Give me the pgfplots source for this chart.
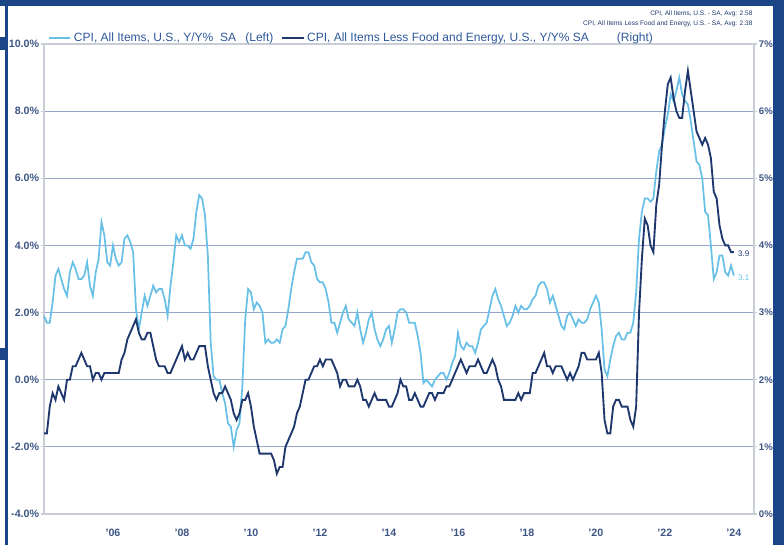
\documentclass[border=0pt]{standalone}
\usepackage{fontspec}
\setmainfont{Liberation Sans}
\usepackage{pgfplots}
\usepackage{pgfplotstable}
\pgfplotsset{compat=1.18}
\definecolor{navy}{RGB}{28,69,135}
\definecolor{lightser}{RGB}{105,192,230}
\definecolor{darkser}{RGB}{30,56,110}
\definecolor{ticktext}{RGB}{62,86,132}
\definecolor{legtext}{RGB}{45,88,155}
\definecolor{gridc}{RGB}{150,165,200}
\definecolor{framec}{RGB}{200,205,214}

% CPI, All Items, Y/Y %, monthly Jan 2004 - Jan 2024
\pgfplotstableread[row sep=\\]{v\\
1.9\\ 1.7\\ 1.7\\ 2.3\\ 3.1\\ 3.3\\ 3.0\\ 2.7\\ 2.5\\ 3.2\\ 3.5\\ 3.3\\
3.0\\ 3.0\\ 3.1\\ 3.5\\ 2.8\\ 2.5\\ 3.2\\ 3.6\\ 4.7\\ 4.3\\ 3.5\\ 3.4\\
4.0\\ 3.6\\ 3.4\\ 3.5\\ 4.2\\ 4.3\\ 4.1\\ 3.8\\ 2.1\\ 1.5\\ 2.0\\ 2.5\\
2.2\\ 2.5\\ 2.8\\ 2.6\\ 2.7\\ 2.7\\ 2.4\\ 1.9\\ 2.8\\ 3.5\\ 4.3\\ 4.1\\
4.3\\ 4.0\\ 4.0\\ 3.9\\ 4.2\\ 5.0\\ 5.5\\ 5.4\\ 4.9\\ 3.7\\ 1.1\\ 0.1\\
0.0\\ 0.0\\ -0.4\\ -0.7\\ -1.3\\ -1.4\\ -2.0\\ -1.5\\ -1.3\\ -0.2\\ 1.8\\ 2.7\\
2.6\\ 2.1\\ 2.3\\ 2.2\\ 2.0\\ 1.1\\ 1.2\\ 1.1\\ 1.1\\ 1.2\\ 1.1\\ 1.5\\
1.6\\ 2.1\\ 2.7\\ 3.2\\ 3.6\\ 3.6\\ 3.6\\ 3.8\\ 3.8\\ 3.5\\ 3.4\\ 3.0\\
2.9\\ 2.9\\ 2.7\\ 2.3\\ 1.7\\ 1.7\\ 1.4\\ 1.7\\ 2.0\\ 2.2\\ 1.8\\ 1.7\\
1.6\\ 2.0\\ 1.5\\ 1.1\\ 1.4\\ 1.8\\ 2.0\\ 1.5\\ 1.2\\ 1.0\\ 1.2\\ 1.5\\
1.6\\ 1.1\\ 1.5\\ 2.0\\ 2.1\\ 2.1\\ 2.0\\ 1.7\\ 1.7\\ 1.7\\ 1.3\\ 0.8\\
-0.1\\ 0.0\\ -0.1\\ -0.2\\ 0.0\\ 0.1\\ 0.2\\ 0.2\\ 0.0\\ 0.2\\ 0.5\\ 0.7\\
1.4\\ 1.0\\ 0.9\\ 1.1\\ 1.0\\ 1.0\\ 0.8\\ 1.1\\ 1.5\\ 1.6\\ 1.7\\ 2.1\\
2.5\\ 2.7\\ 2.4\\ 2.2\\ 1.9\\ 1.6\\ 1.7\\ 1.9\\ 2.2\\ 2.0\\ 2.2\\ 2.1\\
2.1\\ 2.2\\ 2.4\\ 2.5\\ 2.8\\ 2.9\\ 2.9\\ 2.7\\ 2.3\\ 2.5\\ 2.2\\ 1.9\\
1.6\\ 1.5\\ 1.9\\ 2.0\\ 1.8\\ 1.6\\ 1.8\\ 1.7\\ 1.7\\ 1.8\\ 2.1\\ 2.3\\
2.5\\ 2.3\\ 1.5\\ 0.3\\ 0.1\\ 0.6\\ 1.0\\ 1.3\\ 1.4\\ 1.2\\ 1.2\\ 1.4\\
1.4\\ 1.7\\ 2.6\\ 4.2\\ 5.0\\ 5.4\\ 5.4\\ 5.3\\ 5.4\\ 6.2\\ 6.8\\ 7.0\\
7.5\\ 7.9\\ 8.5\\ 8.3\\ 8.6\\ 9.0\\ 8.5\\ 8.3\\ 8.2\\ 7.7\\ 7.1\\ 6.5\\
6.4\\ 6.0\\ 5.0\\ 4.9\\ 4.0\\ 3.0\\ 3.2\\ 3.7\\ 3.7\\ 3.2\\ 3.1\\ 3.4\\
3.1\\
}\cpidata

% CPI, All Items Less Food and Energy, Y/Y %, monthly Jan 2004 - Jan 2024
\pgfplotstableread[row sep=\\]{v\\
1.2\\ 1.2\\ 1.6\\ 1.8\\ 1.7\\ 1.9\\ 1.8\\ 1.7\\ 2.0\\ 2.0\\ 2.2\\ 2.2\\
2.3\\ 2.4\\ 2.3\\ 2.2\\ 2.2\\ 2.0\\ 2.1\\ 2.1\\ 2.0\\ 2.1\\ 2.1\\ 2.1\\
2.1\\ 2.1\\ 2.1\\ 2.3\\ 2.4\\ 2.6\\ 2.7\\ 2.8\\ 2.9\\ 2.7\\ 2.6\\ 2.6\\
2.7\\ 2.7\\ 2.5\\ 2.3\\ 2.2\\ 2.2\\ 2.2\\ 2.1\\ 2.1\\ 2.2\\ 2.3\\ 2.4\\
2.5\\ 2.3\\ 2.4\\ 2.3\\ 2.3\\ 2.4\\ 2.5\\ 2.5\\ 2.5\\ 2.2\\ 2.0\\ 1.8\\
1.7\\ 1.8\\ 1.8\\ 1.9\\ 1.8\\ 1.7\\ 1.5\\ 1.4\\ 1.5\\ 1.7\\ 1.7\\ 1.8\\
1.6\\ 1.3\\ 1.1\\ 0.9\\ 0.9\\ 0.9\\ 0.9\\ 0.9\\ 0.8\\ 0.6\\ 0.7\\ 0.7\\
1.0\\ 1.1\\ 1.2\\ 1.3\\ 1.5\\ 1.6\\ 1.8\\ 2.0\\ 2.0\\ 2.1\\ 2.2\\ 2.2\\
2.3\\ 2.2\\ 2.3\\ 2.3\\ 2.3\\ 2.2\\ 2.1\\ 1.9\\ 2.0\\ 2.0\\ 1.9\\ 1.9\\
1.9\\ 2.0\\ 1.9\\ 1.7\\ 1.7\\ 1.6\\ 1.7\\ 1.8\\ 1.7\\ 1.7\\ 1.7\\ 1.7\\
1.6\\ 1.6\\ 1.7\\ 1.8\\ 2.0\\ 1.9\\ 1.9\\ 1.7\\ 1.7\\ 1.8\\ 1.7\\ 1.6\\
1.6\\ 1.7\\ 1.8\\ 1.8\\ 1.7\\ 1.8\\ 1.8\\ 1.8\\ 1.9\\ 1.9\\ 2.0\\ 2.1\\
2.2\\ 2.3\\ 2.2\\ 2.1\\ 2.2\\ 2.2\\ 2.2\\ 2.3\\ 2.2\\ 2.1\\ 2.1\\ 2.2\\
2.3\\ 2.2\\ 2.0\\ 1.9\\ 1.7\\ 1.7\\ 1.7\\ 1.7\\ 1.7\\ 1.8\\ 1.7\\ 1.8\\
1.8\\ 1.8\\ 2.1\\ 2.1\\ 2.2\\ 2.3\\ 2.4\\ 2.2\\ 2.2\\ 2.1\\ 2.2\\ 2.2\\
2.2\\ 2.1\\ 2.0\\ 2.1\\ 2.0\\ 2.1\\ 2.2\\ 2.4\\ 2.4\\ 2.3\\ 2.3\\ 2.3\\
2.3\\ 2.4\\ 2.1\\ 1.4\\ 1.2\\ 1.2\\ 1.6\\ 1.7\\ 1.7\\ 1.6\\ 1.6\\ 1.6\\
1.4\\ 1.3\\ 1.6\\ 3.0\\ 3.8\\ 4.4\\ 4.3\\ 4.0\\ 3.9\\ 4.6\\ 4.9\\ 5.5\\
6.0\\ 6.4\\ 6.5\\ 6.2\\ 6.0\\ 5.9\\ 5.9\\ 6.3\\ 6.6\\ 6.3\\ 6.0\\ 5.7\\
5.6\\ 5.5\\ 5.6\\ 5.5\\ 5.3\\ 4.8\\ 4.7\\ 4.3\\ 4.1\\ 4.0\\ 4.0\\ 3.9\\
3.9\\
}\coredata

\pgfplotsset{base/.style={
  scale only axis, width=532.5pt, height=352.5pt,
  at={(33pt,23.25pt)}, anchor=south west,
  xmin=0, xmax=247,
  axis line style={framec, line width=0.8pt},
  tick style={framec, line width=0.8pt},
  tick align=outside, major tick length=2.5pt,
  tick label style={font=\bfseries\fontsize{8}{9.6}\selectfont, text=ticktext},
  /pgf/number format/assume math mode=true,
}}

\begin{document}
\begin{tikzpicture}
\path[use as bounding box] (0,0) rectangle (588pt,408.75pt);
% slide frame
\fill[navy] (0,404pt) rectangle (588pt,408.75pt);
\fill[navy] (579.75pt,0) rectangle (588pt,408.75pt);
\fill[navy] (3.75pt,0) rectangle (6pt,404pt);
\fill[navy] (0,371.25pt) rectangle (6pt,381pt);
\fill[navy] (0,138.75pt) rectangle (6pt,147.75pt);

\begin{axis}[base,
  ymin=-4, ymax=10,
  ytick={-4,-2,0,2,4,6,8,10},
  yticklabels={-4.0\%,-2.0\%,0.0\%,2.0\%,4.0\%,6.0\%,8.0\%,10.0\%},
  ytick pos=left,
  yticklabel style={inner sep=1pt},
  xtick={24,48,72,96,120,144,168,192,216,240},
  xticklabels={'06,'08,'10,'12,'14,'16,'18,'20,'22,'24},
  xtick style={draw=none},
  xticklabel style={yshift=-5pt},
  ymajorgrids, grid style={gridc, line width=0.6pt},
  legend columns=2,
  legend style={at={(0,1)}, anchor=west, xshift=2pt, yshift=4.6pt,
    draw=none, fill=none, inner sep=1pt,
    font=\fontsize{9}{10.5}\selectfont, text=legtext,
    /tikz/every even column/.append style={column sep=4pt}},
  legend image code/.code={\draw[#1] (0pt,0pt) -- (16pt,0pt);},
  clip=false,
]
\addplot[lightser, line width=1.3pt] table[x expr=\coordindex, y=v]{\cpidata};
\addlegendentry{CPI, All Items, U.S., Y/Y\%\ \ SA\hspace{7pt}(Left)}
\addlegendimage{darkser, line width=1.3pt}
\addlegendentry{CPI, All Items Less Food and Energy, U.S., Y/Y\% SA\hspace{21pt}(Right)}
\node[anchor=west, text=lightser, font=\fontsize{6}{7}\selectfont, inner sep=1pt] at (axis cs:240,3.1) [yshift=-1.5pt, xshift=2pt] {3.1};
\node[anchor=south east, text=darkser, font=\fontsize{4.9}{5}\selectfont, inner sep=0pt] at (rel axis cs:1,1) [yshift=20pt, xshift=-1pt] {CPI, All Items, U.S. - SA, Avg: 2.58};
\node[anchor=south east, text=darkser, font=\fontsize{4.9}{5}\selectfont, inner sep=0pt] at (rel axis cs:1,1) [yshift=12.3pt, xshift=-1pt] {CPI, All Items Less Food and Energy, U.S. - SA, Avg: 2.38};
\end{axis}

\begin{axis}[base,
  ymin=0, ymax=7,
  ytick={0,1,2,3,4,5,6,7},
  yticklabels={0\%,1\%,2\%,3\%,4\%,5\%,6\%,7\%},
  axis x line=none, axis y line*=right,
  xtick=\empty,
  major tick length=2.5pt,
  yticklabel style={font=\bfseries\fontsize{7.2}{8.6}\selectfont, inner sep=1pt},
  clip=false,
]
\addplot[darkser, line width=1.4pt] table[x expr=\coordindex, y=v]{\coredata};
\node[anchor=west, text=darkser, font=\fontsize{6}{7}\selectfont, inner sep=1pt] at (axis cs:240,3.9) [yshift=-1pt, xshift=2pt] {3.9};
\end{axis}
\end{tikzpicture}
\end{document}
